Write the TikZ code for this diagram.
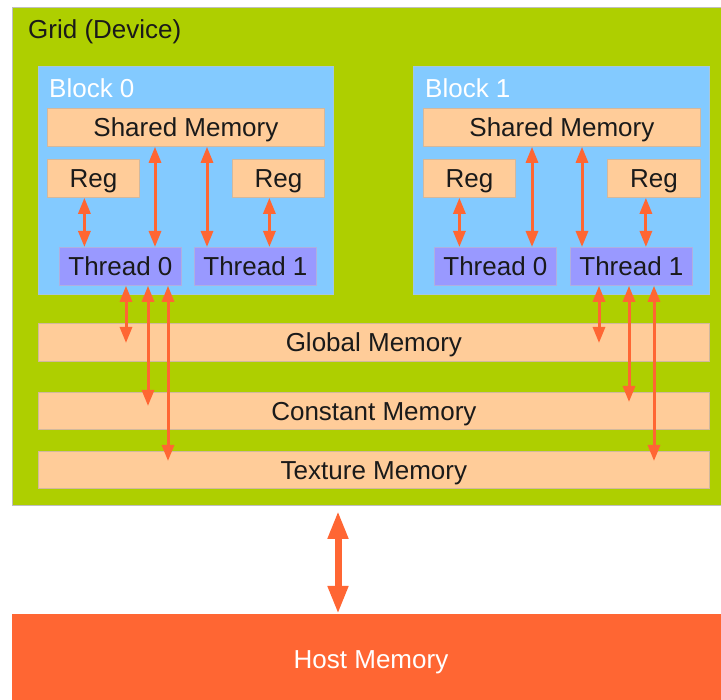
\documentclass[tikz,border=0pt]{standalone}
\usepackage{fontspec}
\setmainfont{Liberation Sans}
\usetikzlibrary{arrows.meta}
\definecolor{gridgreen}{HTML}{AECF00}
\definecolor{blockblue}{HTML}{83CAFF}
\definecolor{mempeach}{HTML}{FFCC99}
\definecolor{threadviolet}{HTML}{9999FF}
\definecolor{linkorange}{HTML}{FF6633}
\definecolor{inktext}{HTML}{1A1A1A}
\tikzset{
  txt/.style={font=\fontsize{26}{30}\selectfont, text height=18.7pt, text depth=0pt},
  area/.style={draw=black!25, line width=0.8pt, anchor=north west, inner sep=0pt},
  gridbox/.style={area, fill=gridgreen},
  blockbox/.style={area, fill=blockblue, draw=blockblue!80!black!60},
  membox/.style={area, txt, fill=mempeach, draw=mempeach!75!black!70, text=inktext},
  threadbox/.style={area, txt, fill=threadviolet, draw=threadviolet!80!black!60, text=inktext},
  hostbox/.style={area, fill=linkorange, draw=linkorange},
  label/.style={txt, anchor=west, inner sep=0pt},
  link/.style={draw=linkorange, line width=3pt,
    {Triangle[width=12pt,length=16pt]}-{Triangle[width=12pt,length=16pt]}},
  hostlink/.style={draw=linkorange, line width=7pt,
    {Triangle[width=19pt,length=28pt]}-{Triangle[width=19pt,length=28pt]}},
}
\begin{document}
\begin{tikzpicture}[x=1pt, y=-1pt]
  \useasboundingbox (0,0) rectangle (721,700);
  \fill[white] (0,0) rectangle (721,700);

  % device grid
  \node[gridbox, minimum width=720pt, minimum height=498pt] (grid) at (12,7) {};
  \node[label, text=inktext] (gridlbl) at (28,29) {Grid (Device)};

  % block 0
  \node[blockbox, minimum width=295pt, minimum height=228pt] (b0) at (38,66) {};
  \node[label, text=white] (b0lbl) at (49,88) {Block 0};
  \node[membox, minimum width=277pt, minimum height=38pt] (sm0) at (47,108) {Shared Memory};
  \node[membox, minimum width=92pt, minimum height=38pt] (r00) at (47,159) {Reg};
  \node[membox, minimum width=92pt, minimum height=38pt] (r01) at (232,159) {Reg};
  \node[threadbox, minimum width=122pt, minimum height=38pt] (t00) at (59,247) {Thread 0};
  \node[threadbox, minimum width=122pt, minimum height=38pt] (t01) at (194,247) {Thread 1};

  % block 1
  \node[blockbox, minimum width=296pt, minimum height=228pt] (b1) at (413,66) {};
  \node[label, text=white] (b1lbl) at (425,88) {Block 1};
  \node[membox, minimum width=277pt, minimum height=38pt] (sm1) at (423,108) {Shared Memory};
  \node[membox, minimum width=92pt, minimum height=38pt] (r10) at (423,159) {Reg};
  \node[membox, minimum width=93pt, minimum height=38pt] (r11) at (607,159) {Reg};
  \node[threadbox, minimum width=122pt, minimum height=38pt] (t10) at (434,247) {Thread 0};
  \node[threadbox, minimum width=122pt, minimum height=38pt] (t11) at (570,247) {Thread 1};

  % device-wide memories
  \node[membox, minimum width=671pt, minimum height=38pt] (gm) at (38,323) {Global Memory};
  \node[membox, minimum width=671pt, minimum height=37pt] (cm) at (38,392) {Constant Memory};
  \node[membox, minimum width=671pt, minimum height=37pt] (tm) at (38,451) {Texture Memory};

  % host memory
  \node[hostbox, minimum width=720pt, minimum height=100pt] (host) at (12,614) {};
  \node[txt, text=white, inner sep=0pt] (hostlbl) at (371,659) {Host Memory};

  % links inside block 0
  \draw[link] ([xshift=-9pt]r00.south) -- ([xshift=-9pt]r00.south |- t00.north);
  \draw[link] (sm0.south -| 155,0) -- (t00.north -| 155,0);
  \draw[link] (sm0.south -| 207,0) -- (t01.north -| 207,0);
  \draw[link] ([xshift=-9pt]r01.south) -- ([xshift=-9pt]r01.south |- t01.north);

  % links inside block 1
  \draw[link] ([xshift=-10pt]r10.south) -- ([xshift=-10pt]r10.south |- t10.north);
  \draw[link] (sm1.south -| 532,0) -- (t10.north -| 532,0);
  \draw[link] (sm1.south -| 582,0) -- (t11.north -| 582,0);
  \draw[link] ([xshift=-8pt]r11.south) -- ([xshift=-8pt]r11.south |- t11.north);

  % thread 0 of block 0 to device memories
  \draw[link] (t00.south -| 126,0) -- ([yshift=-20pt]gm.north -| 126,0);
  \draw[link] (t00.south -| 148,0) -- ([yshift=-14pt]cm.north -| 148,0);
  \draw[link] (t00.south -| 168,0) -- ([yshift=-10pt]tm.north -| 168,0);

  % thread 1 of block 1 to device memories
  \draw[link] (t11.south -| 599,0) -- ([yshift=-20pt]gm.north -| 599,0);
  \draw[link] (t11.south -| 629,0) -- ([yshift=-10pt]cm.north -| 629,0);
  \draw[link] (t11.south -| 654,0) -- ([yshift=-10pt]tm.north -| 654,0);

  % device to host
  \draw[hostlink] ([yshift=-5pt]grid.south -| 338,0) -- (host.north -| 338,0);
\end{tikzpicture}
\end{document}
